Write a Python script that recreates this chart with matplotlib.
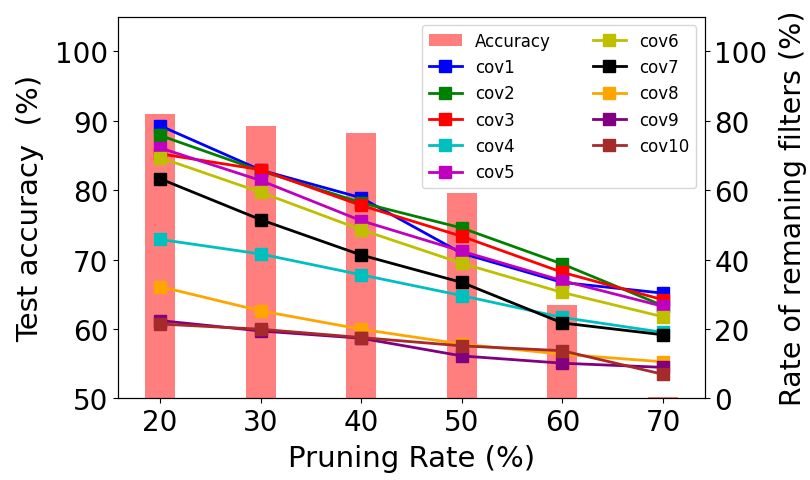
import matplotlib
matplotlib.use('Agg')
import matplotlib.pyplot as plt

pruning_rate = [20, 30, 40, 50, 60, 70]
accuracy = [91.0, 89.2, 88.2, 79.6, 63.4, 50.2]

cov1 = [78.6, 65.8, 57.8, 41.8, 33.4, 30.3]
cov2 = [75.8, 65.6, 56.4, 49.1, 38.7, 26.7]
cov3 = [70.5, 65.9, 55.6, 46.7, 36.3, 28.4]
cov4 = [45.8, 41.6, 35.6, 29.6, 23.3, 19.0]
cov5 = [72.2, 62.8, 51.2, 42.4, 33.9, 26.5]
cov6 = [69.4, 59.4, 48.6, 38.9, 30.5, 23.5]
cov7 = [63.3, 51.5, 41.3, 33.4, 21.7, 18.3]
cov8 = [32.2, 25.2, 19.9, 15.6, 12.7, 10.5]
cov9 = [22.4, 19.4, 17.3, 12.2, 10.1, 8.9]
cov10 = [21.4, 19.9, 17.5, 15.1, 13.7, 6.9]

series = [cov1, cov2, cov3, cov4, cov5, cov6, cov7, cov8, cov9, cov10]
names = ['cov1', 'cov2', 'cov3', 'cov4', 'cov5', 'cov6', 'cov7', 'cov8', 'cov9', 'cov10']
colors = ['b', 'g', 'r', 'c', 'm', 'y', 'k', 'orange', 'purple', 'brown']

fig, ax = plt.subplots(figsize=(8.1, 4.81), dpi=100)
fig.subplots_adjust(left=0.146, right=0.870, bottom=0.17, top=0.963)

bars = ax.bar(pruning_rate, accuracy, width=3, color='red', alpha=0.5, label='Accuracy')
ax.set_ylim(50, 105)
ax.set_yticks([50, 60, 70, 80, 90, 100])
ax.set_xticks(pruning_rate)
ax.set_xlabel('Pruning Rate (%)', fontsize=21, labelpad=6)
ax.set_ylabel('Test accuracy  (%)', fontsize=21, labelpad=8)
ax.tick_params(labelsize=20)

ax2 = ax.twinx()
handles = [bars]
for vals, name, c in zip(series, names, colors):
    h, = ax2.plot(pruning_rate, vals, '-s', color=c, lw=2, markersize=8, label=name)
    handles.append(h)
ax2.set_ylim(0, 110)
ax2.set_yticks([0, 20, 40, 60, 80, 100])
ax2.set_ylabel('Rate of remaning filters (%)', fontsize=20.5, labelpad=8)
ax2.tick_params(labelsize=20)

ax2.legend(handles=handles, ncol=2, fontsize=12, loc='upper right',
           handlelength=2, columnspacing=2.5)

plt.savefig('out.png')
